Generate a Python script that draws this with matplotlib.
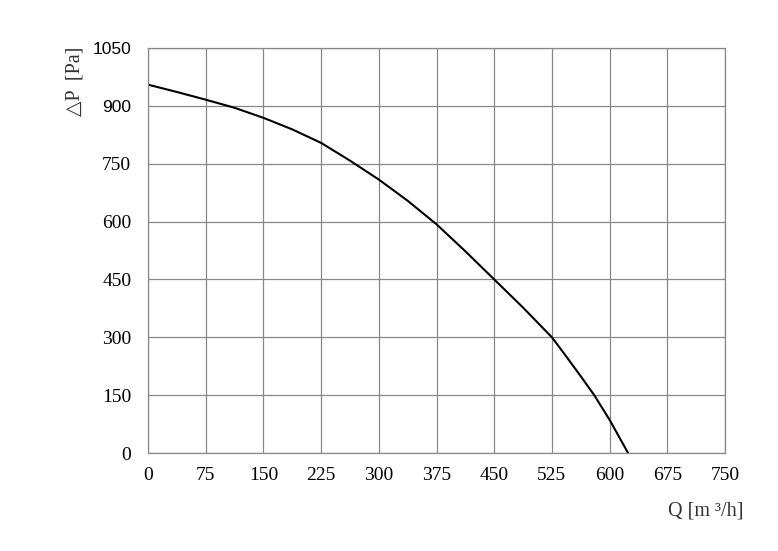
import matplotlib.pyplot as plt

# fan curve
flow = [0, 37.5, 75, 112.5, 150, 187.5, 225, 262.5, 300, 337.5, 375, 412.5, 450,
        487.5, 525, 543.75, 562.5, 580, 600, 612, 624]
pressure = [955, 936, 916, 895, 869, 839, 804, 758, 709, 654, 593, 523, 450,
            377, 300, 250, 199, 150, 86, 43, 0]

xticks = [0, 75, 150, 225, 300, 375, 450, 525, 600, 675, 750]
yticks = [0, 150, 300, 450, 600, 750, 900, 1050]

fig = plt.figure(figsize=(7.78, 5.51), dpi=100)
ax = fig.add_axes([148/778, 1-453/551, 577/778, 405/551])

ax.plot(flow, pressure, color='black', linewidth=1.5)

ax.set_xlim(0, 750)
ax.set_ylim(0, 1050)
ax.set_xticks(xticks)
ax.set_yticks(yticks)
ax.grid(True, color='#888888', linewidth=0.9)
for s in ax.spines.values():
    s.set_color('#888888')
    s.set_linewidth(0.9)
ax.tick_params(length=0)
ax.tick_params(axis='x', pad=10)
ax.tick_params(axis='y', pad=12)

serif = ['Liberation Serif', 'DejaVu Sans']
for lab in ax.get_xticklabels():
    lab.set_fontfamily(serif)
    lab.set_fontsize(14)
for lab in ax.get_yticklabels():
    if lab.get_text() in ('1050', '900'):
        lab.set_fontfamily('Liberation Sans')
        lab.set_fontsize(12.5)
    else:
        lab.set_fontfamily(serif)
        lab.set_fontsize(14)

fig.text(75/778, 1-81/551, '△P  [Pa]', rotation=90, ha='center', va='center',
         family=serif, fontsize=14.5, color='#333333')
fig.text(706/778, 1-511/551, 'Q [m ³/h]', ha='center', va='center',
         family=serif, fontsize=14.5, color='#333333')

plt.savefig('out.png', dpi=100)
